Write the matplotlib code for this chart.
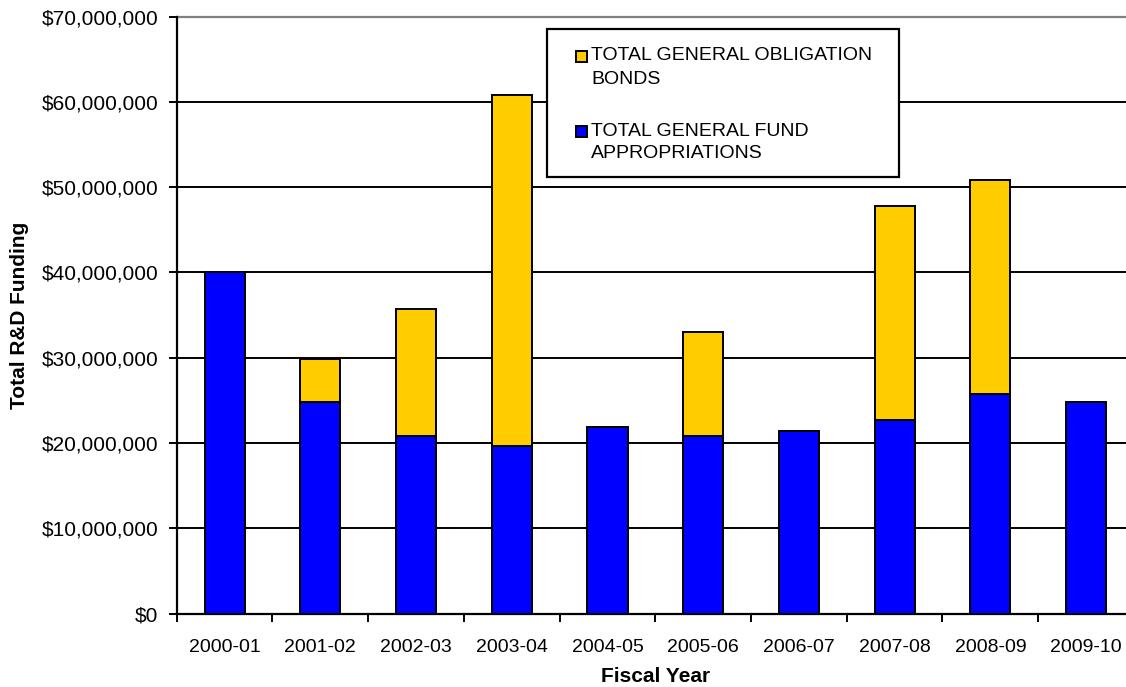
import matplotlib
matplotlib.use("Agg")
import matplotlib.pyplot as plt
from matplotlib.patches import Rectangle
from matplotlib.ticker import FuncFormatter, MultipleLocator
import numpy as np

plt.rcParams['font.family'] = ['Liberation Sans', 'DejaVu Sans']

years = ['2000-01', '2001-02', '2002-03', '2003-04', '2004-05',
         '2005-06', '2006-07', '2007-08', '2008-09', '2009-10']
# values in dollars
general_fund = [40.0e6, 24.8e6, 20.8e6, 19.7e6, 21.9e6,
                20.8e6, 21.4e6, 22.7e6, 25.8e6, 24.8e6]
obligation_bonds = [0, 5.0e6, 14.9e6, 41.1e6, 0,
                    12.2e6, 0, 25.1e6, 25.0e6, 0]
series_names = [['TOTAL GENERAL OBLIGATION', 'BONDS'],
                ['TOTAL GENERAL FUND', 'APPROPRIATIONS']]

blue = '#0000FF'
gold = '#FFCC00'
W, H = 1126, 687

fig = plt.figure(figsize=(W / 100, H / 100), dpi=100)
ax = fig.add_axes([0.157, 0.1068, 0.850, 0.869])

x = np.arange(len(years))
ax.bar(x, general_fund, width=0.42, color=blue, edgecolor='black', lw=1.4, zorder=3)
ax.bar(x, obligation_bonds, width=0.42, bottom=general_fund, color=gold,
       edgecolor='black', lw=1.4, zorder=3)

ax.set_xlim(-0.5, len(years) - 0.5)
ax.set_ylim(0, 70e6)
ax.yaxis.set_major_locator(MultipleLocator(10e6))
ax.yaxis.set_major_formatter(FuncFormatter(lambda v, p: '${:,.0f}'.format(v)))

ax.set_xticks(np.arange(-0.5, len(years), 1.0))
ax.set_xticklabels([])
ax.set_xticks(x, minor=True)
ax.set_xticklabels(years, minor=True)
ax.tick_params(axis='x', which='major', length=6, width=1.4, direction='out')
ax.tick_params(axis='x', which='minor', length=0, pad=18, labelsize=14)
ax.tick_params(axis='y', length=6, width=1.4, pad=7.5, labelsize=15)

ax.yaxis.grid(True, color='black', lw=1.4)
ax.set_axisbelow(True)
ax.axhline(70e6, color='#808080', lw=1.6, zorder=2, clip_on=False)

for s in ['top', 'right']:
    ax.spines[s].set_visible(False)
ax.spines['left'].set_linewidth(1.6)
ax.spines['bottom'].set_linewidth(1.6)

ax.set_xlabel('Fiscal Year', fontsize=15, fontweight='bold', labelpad=8)
ax.set_ylabel('Total R&D Funding', fontsize=15, fontweight='bold', labelpad=9)

# legend box drawn in figure pixels
fig.patches.append(Rectangle((547 / W, 1 - 177 / H), 352 / W, 148 / H,
                             transform=fig.transFigure, facecolor='white',
                             edgecolor='black', lw=1.6, zorder=5))
for color, lines, y0 in zip([gold, blue], series_names, [56, 131]):
    fig.patches.append(Rectangle((576 / W, 1 - (y0 + 5.5) / H), 11 / W, 11 / H,
                                 transform=fig.transFigure, facecolor=color,
                                 edgecolor='black', lw=1.4, zorder=6))
    for i, line in enumerate(lines):
        fig.text(591 / W, 1 - (y0 + 23 * i) / H, line, fontsize=14,
                 ha='left', va='center', zorder=7)

fig.savefig('out.png', dpi=100)
